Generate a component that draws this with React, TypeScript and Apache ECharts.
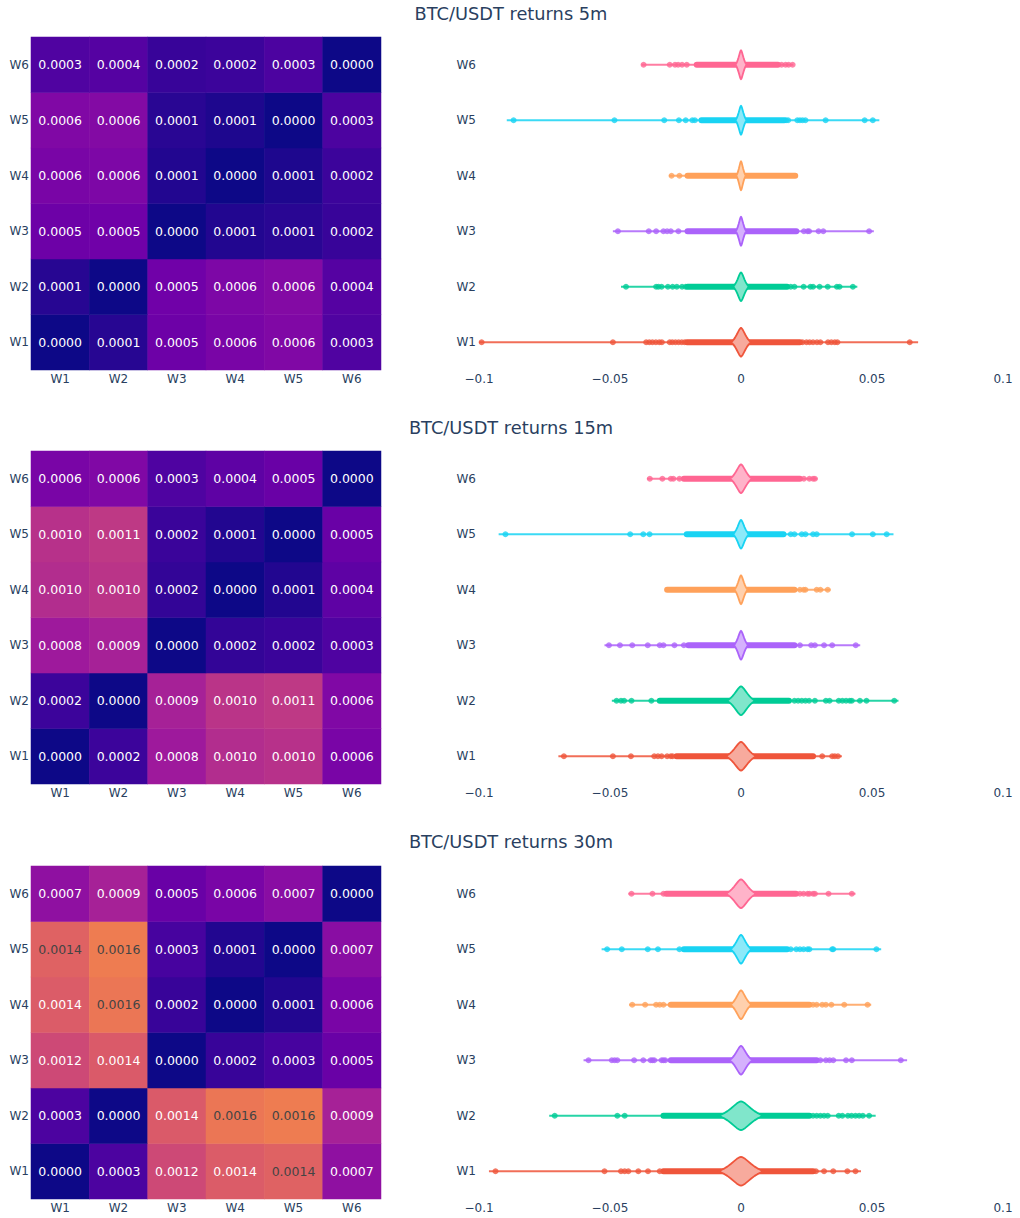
import React, { useEffect, useRef } from 'react';
import * as echarts from 'echarts';

// ---------- data ----------
const windows = ['W1', 'W2', 'W3', 'W4', 'W5', 'W6'];
const timeframes = ['5m', '15m', '30m'];
const seriesColors = ['#EF553B', '#00CC96', '#AB63FA', '#FFA15A', '#19D3F3', '#FF6692'];
const plasma = ['#0d0887', '#46039f', '#7201a8', '#9c179e', '#bd3786', '#d8576b', '#ed7953', '#fb9f3a', '#fdca26', '#f0f921'];
const xTicks = [-0.1, -0.05, 0, 0.05, 0.1];

// pairwise distance matrices (row = y window, col = x window)
const dist5m = [
  [0, 0.00012, 0.0005, 0.00058, 0.00062, 0.00033],
  [0.00012, 0, 0.00052, 0.0006, 0.00064, 0.00036],
  [0.0005, 0.00052, 0, 0.0001, 0.00013, 0.0002],
  [0.00058, 0.0006, 0.0001, 0, 0.00008, 0.00022],
  [0.00062, 0.00064, 0.00013, 0.00008, 0, 0.0003],
  [0.00033, 0.00036, 0.0002, 0.00022, 0.0003, 0],
];
const dist15m = [
  [0, 0.00022, 0.00082, 0.00098, 0.00102, 0.00058],
  [0.00022, 0, 0.00088, 0.00104, 0.00108, 0.00062],
  [0.00082, 0.00088, 0, 0.00018, 0.00021, 0.00032],
  [0.00098, 0.00104, 0.00018, 0, 0.0001, 0.00041],
  [0.00102, 0.00108, 0.00021, 0.0001, 0, 0.00048],
  [0.00058, 0.00062, 0.00032, 0.00041, 0.00048, 0],
];
const dist30m = [
  [0, 0.0003, 0.00122, 0.00137, 0.00142, 0.00072],
  [0.0003, 0, 0.00136, 0.00158, 0.00162, 0.00088],
  [0.00122, 0.00136, 0, 0.0002, 0.00027, 0.00048],
  [0.00137, 0.00158, 0.0002, 0, 0.0001, 0.00058],
  [0.00142, 0.00162, 0.00027, 0.0001, 0, 0.00068],
  [0.00072, 0.00088, 0.00048, 0.00058, 0.00068, 0],
];

// violin extents (min/max of the violin outline), dense point band, KDE half width
const span5m = [[-0.1, 0.0676], [-0.0458, 0.0444], [-0.0489, 0.0507], [-0.0275, 0.0211], [-0.0894, 0.0528], [-0.038, 0.02]];
const dense5m = [[-0.0206, 0.0225], [-0.0204, 0.0176], [-0.0204, 0.0211], [-0.0204, 0.0207], [-0.0151, 0.0165], [-0.0169, 0.0141]];
const kdeWidth5m = [0.0038, 0.003, 0.002, 0.0018, 0.0021, 0.0021];
const points5m = [
  [-0.099, -0.0489, -0.0362, -0.035, -0.0338, -0.0325, -0.0312, -0.0302, -0.0272, -0.0262, -0.025, -0.0238, -0.0226, -0.0215, 0.0235, 0.025, 0.0262, 0.0275, 0.029, 0.0303, 0.0332, 0.0345, 0.0358, 0.0368, 0.0644],
  [-0.0439, -0.0324, -0.0315, -0.0303, -0.0279, -0.0261, -0.0245, -0.0225, -0.0211, 0.019, 0.0204, 0.0239, 0.0265, 0.0275, 0.03, 0.0331, 0.0366, 0.0376, 0.0427],
  [-0.047, -0.0352, -0.0324, -0.0296, -0.0282, -0.0268, -0.0239, 0.024, 0.0254, 0.026, 0.0296, 0.0314, 0.0489],
  [-0.0265, -0.0235],
  [-0.0868, -0.0483, -0.0293, -0.0237, -0.0211, -0.0186, -0.0176, 0.0172, 0.018, 0.0215, 0.0225, 0.0235, 0.0246, 0.0323, 0.0472, 0.0503],
  [-0.0372, -0.0272, -0.0252, -0.024, -0.0225, -0.0207, 0.0155, 0.017, 0.0182, 0.0197],
];

const span15m = [[-0.0697, 0.0385], [-0.0493, 0.0601], [-0.0521, 0.0455], [-0.0289, 0.0342], [-0.0925, 0.0582], [-0.0359, 0.0292]];
const dense15m = [[-0.0246, 0.0275], [-0.031, 0.0183], [-0.0201, 0.0204], [-0.0282, 0.0204], [-0.0207, 0.0162], [-0.0218, 0.0225]];
const kdeWidth15m = [0.0058, 0.0054, 0.0027, 0.0025, 0.003, 0.0042];
const points15m = [
  [-0.0676, -0.0489, -0.042, -0.0331, -0.0317, -0.0303, -0.0282, -0.0268, -0.0261, 0.031, 0.0348, 0.0358, 0.037],
  [-0.0475, -0.0458, -0.0446, -0.0418, -0.0342, 0.0204, 0.0218, 0.0232, 0.0246, 0.026, 0.0282, 0.0324, 0.0338, 0.0373, 0.0387, 0.0401, 0.0415, 0.0423, 0.0454, 0.0479, 0.0585],
  [-0.0504, -0.0462, -0.0415, -0.0356, -0.031, -0.0296, -0.0254, -0.0218, 0.0225, 0.0268, 0.0282, 0.0317, 0.0348, 0.0438],
  [0.0225, 0.0239, 0.0246, 0.0289, 0.0303, 0.0331],
  [-0.0899, -0.0423, -0.0373, -0.0349, 0.019, 0.0204, 0.0232, 0.0246, 0.0275, 0.0289, 0.0424, 0.0503, 0.0556],
  [-0.0348, -0.03, -0.0268, -0.0258, -0.0235, 0.024, 0.0261, 0.0275, 0.0282],
];

const span30m = [[-0.0962, 0.0458], [-0.0732, 0.0514], [-0.0601, 0.0634], [-0.0427, 0.0497], [-0.0532, 0.0535], [-0.043, 0.0437]];
const dense30m = [[-0.0296, 0.0275], [-0.0296, 0.0261], [-0.0268, 0.0289], [-0.0268, 0.0261], [-0.0218, 0.0176], [-0.0285, 0.021]];
const kdeWidth30m = [0.0087, 0.0086, 0.0044, 0.004, 0.004, 0.0058];
const points30m = [
  [-0.0937, -0.0521, -0.0458, -0.0444, -0.043, -0.0392, -0.0355, -0.031, 0.0286, 0.0317, 0.0352, 0.0406, 0.0437],
  [-0.0711, -0.0472, -0.0444, 0.0275, 0.0289, 0.0303, 0.0317, 0.0331, 0.0373, 0.0387, 0.0408, 0.0422, 0.0437, 0.0451, 0.0465, 0.0489],
  [-0.0582, -0.0493, -0.0482, -0.0472, -0.0408, -0.0373, -0.0345, -0.0338, -0.0331, -0.0303, -0.0296, -0.0289, 0.0303, 0.0324, 0.0338, 0.0352, 0.0401, 0.0423, 0.061],
  [-0.0415, -0.0366, -0.0324, -0.031, -0.0296, 0.0275, 0.0289, 0.031, 0.0324, 0.0345, 0.0394, 0.0483],
  [-0.0511, -0.0455, -0.0356, -0.0317, -0.0235, 0.019, 0.0211, 0.0225, 0.0239, 0.0254, 0.0261, 0.0348, 0.0352, 0.0517],
  [-0.0418, -0.0338, -0.0296, 0.0225, 0.0239, 0.0254, 0.0261, 0.0275, 0.0282, 0.0334, 0.0423],
];

// normalised KDE profile of the violins (offset from peak as fraction of half width -> relative density)
const kdeOffset = [0, 0.08, 0.18, 0.3, 0.45, 0.6, 0.72, 0.82, 0.9, 1];
const kdeDensity = [1, 0.96, 0.86, 0.7, 0.5, 0.32, 0.2, 0.12, 0.06, 0];

const distByTf = [dist5m, dist15m, dist30m];
const spanByTf = [span5m, span15m, span30m];
const denseByTf = [dense5m, dense15m, dense30m];
const kdeByTf = [kdeWidth5m, kdeWidth15m, kdeWidth30m];
const pointsByTf = [points5m, points15m, points30m];

// ---------- helpers ----------
const FONT = '"DejaVu Sans", Verdana, sans-serif';
const AXIS_COLOR = '#2a3f5f';

function tint(hex: string, k: number) {
  const n = parseInt(hex.slice(1), 16);
  const r = (n >> 16) & 255, g = (n >> 8) & 255, b = n & 255;
  const m = (c: number) => Math.round(c + (255 - c) * k);
  return `rgb(${m(r)},${m(g)},${m(b)})`;
}

function buildOption() {
  const blockTops = [37, 451, 866];
  const titleTops = [4, 418, 832];
  const grids: any[] = [];
  const xAxes: any[] = [];
  const yAxes: any[] = [];
  const series: any[] = [];
  const titles: any[] = [];
  const heatIdx: number[] = [];

  timeframes.forEach((tf, b) => {
    titles.push({
      text: `BTC/USDT returns ${tf}`,
      left: 511,
      top: titleTops[b],
      textAlign: 'center',
      padding: 0,
      textStyle: { fontFamily: FONT, fontSize: 17.8, fontWeight: 'normal', color: AXIS_COLOR },
    });
    grids.push({ left: 31, top: blockTops[b], width: 350, height: 333 });
    grids.push({ left: 479, top: blockTops[b], width: 524, height: 333 });

    const catLabel = { fontFamily: FONT, fontSize: 12, color: AXIS_COLOR };
    xAxes.push({
      type: 'category', gridIndex: 2 * b, data: windows,
      axisLine: { show: false }, axisTick: { show: false }, splitLine: { show: false },
      axisLabel: { ...catLabel, margin: 3 },
    });
    yAxes.push({
      type: 'category', gridIndex: 2 * b, data: windows,
      axisLine: { show: false }, axisTick: { show: false }, splitLine: { show: false },
      axisLabel: { ...catLabel, margin: 2 },
    });
    xAxes.push({
      type: 'value', gridIndex: 2 * b + 1, min: xTicks[0], max: xTicks[xTicks.length - 1], interval: 0.05,
      axisLine: { show: false }, axisTick: { show: false }, splitLine: { show: false },
      axisLabel: {
        ...catLabel, margin: 3, showMinLabel: true, showMaxLabel: true,
        formatter: (v: number) => (Math.abs(v) < 1e-9 ? '0' : String(Math.round(v * 100) / 100).replace('-', '\u2212')),
      },
    });
    yAxes.push({
      type: 'category', gridIndex: 2 * b + 1, data: windows,
      axisLine: { show: false }, axisTick: { show: false }, splitLine: { show: false },
      axisLabel: { ...catLabel, margin: 3 },
    });

    // heatmap
    const dist = distByTf[b];
    const hData: any[] = [];
    dist.forEach((row, r) => row.forEach((v, c) => {
      hData.push({ value: [c, r, v], label: { color: v >= 0.0014 ? '#444444' : '#ffffff' } });
    }));
    heatIdx.push(series.length);
    series.push({
      type: 'heatmap', xAxisIndex: 2 * b, yAxisIndex: 2 * b, data: hData,
      label: { show: true, fontFamily: FONT, fontSize: 12.5, formatter: (p: any) => p.value[2].toFixed(4) },
      itemStyle: { borderWidth: 0 },
      emphasis: { disabled: true },
    });

    // violin spans and dense point bands
    const spans = spanByTf[b];
    const dense = denseByTf[b];
    series.push({
      type: 'custom', xAxisIndex: 2 * b + 1, yAxisIndex: 2 * b + 1, z: 1,
      encode: { x: [1, 2], y: 0 },
      data: windows.map((_, r) => [r, spans[r][0], spans[r][1], dense[r][0], dense[r][1]]),
      renderItem: (params: any, api: any) => {
        const r = api.value(0);
        const color = seriesColors[r];
        const a = api.coord([api.value(1), r]);
        const c = api.coord([api.value(2), r]);
        const d0 = api.coord([api.value(3), r]);
        const d1 = api.coord([api.value(4), r]);
        return {
          type: 'group',
          children: [
            { type: 'line', shape: { x1: a[0], y1: a[1], x2: c[0], y2: c[1] }, style: { stroke: color, lineWidth: 2, opacity: 0.85 } },
            { type: 'line', shape: { x1: d0[0], y1: d0[1], x2: d1[0], y2: d1[1] }, style: { stroke: color, lineWidth: 6, lineCap: 'round' } },
          ],
        };
      },
    });

    // individual points
    const pts = pointsByTf[b];
    const sData: any[] = [];
    pts.forEach((list, r) => list.forEach((x) => sData.push({ value: [x, r], itemStyle: { color: seriesColors[r] } })));
    series.push({
      type: 'scatter', xAxisIndex: 2 * b + 1, yAxisIndex: 2 * b + 1, z: 2,
      symbol: 'circle', symbolSize: 6, data: sData, emphasis: { disabled: true },
    });

    // violin shapes
    const kde = kdeByTf[b];
    series.push({
      type: 'custom', xAxisIndex: 2 * b + 1, yAxisIndex: 2 * b + 1, z: 3,
      encode: { x: 1, y: 0 },
      data: windows.map((_, r) => [r, kde[r]]),
      renderItem: (params: any, api: any) => {
        const r = api.value(0);
        const hw = api.value(1);
        const color = seriesColors[r];
        const center = api.coord([0, r]);
        const bandH = api.size([0, 1])[1];
        const peak = bandH * 0.26;
        const n = kdeOffset.length;
        const p: number[][] = [];
        for (let i = n - 1; i >= 0; i--) p.push([api.coord([-kdeOffset[i] * hw, r])[0], center[1] - kdeDensity[i] * peak]);
        for (let i = 1; i < n; i++) p.push([api.coord([kdeOffset[i] * hw, r])[0], center[1] - kdeDensity[i] * peak]);
        for (let i = n - 1; i >= 0; i--) p.push([api.coord([kdeOffset[i] * hw, r])[0], center[1] + kdeDensity[i] * peak]);
        for (let i = 1; i < n; i++) p.push([api.coord([-kdeOffset[i] * hw, r])[0], center[1] + kdeDensity[i] * peak]);
        return {
          type: 'polygon',
          shape: { points: p },
          style: { fill: tint(color, 0.5), stroke: color, lineWidth: 1.8, lineJoin: 'round' },
        };
      },
    });
  });

  return {
    animation: false,
    backgroundColor: '#ffffff',
    title: titles,
    grid: grids,
    xAxis: xAxes,
    yAxis: yAxes,
    visualMap: {
      type: 'continuous', show: false, min: 0, max: 0.0024, dimension: 2,
      seriesIndex: heatIdx, inRange: { color: plasma },
    },
    series,
  };
}

export default function App() {
  const ref = useRef<HTMLDivElement>(null);
  useEffect(() => {
    if (!ref.current) return;
    const chart = echarts.init(ref.current, undefined, { renderer: 'svg' });
    chart.setOption(buildOption() as any);
    return () => chart.dispose();
  }, []);
  return <div ref={ref} style={{ position: 'absolute', left: 0, top: 0, width: 1020, height: 1218 }} />;
}
